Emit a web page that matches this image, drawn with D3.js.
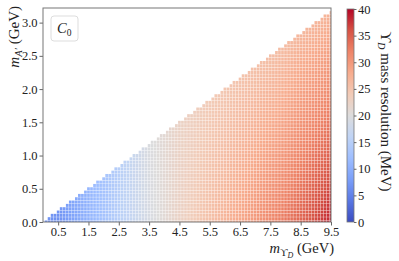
<!DOCTYPE html>
<html>
<head>
<meta charset="utf-8">
<script src="https://cdn.jsdelivr.net/npm/d3@7"></script>
<style>
  body { margin: 0; background: #fff; }
  svg { display: block; }
  text { font-family: "Liberation Serif", "DejaVu Serif", serif; fill: #222; }
</style>
</head>
<body>
<svg width="399" height="261"></svg>
<script>
// scan grid (GeV): m_Upsilon_D columns, m_A' rows, kept where m_Upsilon_D >= 3 m_A'
const mUpsScan = d3.range(1, 96).map(i => i / 10);
const mAStep = 0.05;

// resolution (MeV), at the tick masses
const anchorMUps = [0.5, 1.5, 2.5, 3.5, 4.5, 5.5, 6.5, 7.5, 8.5, 9.5];
const resAtBottom = [6.5, 10.5, 15, 19, 22.5, 25.5, 28.5, 31.5, 34.5, 38.5]; // m_A' = 0
const resAtEdge   = [7, 11, 15, 19.5, 22.5, 24, 25, 25.5, 26.5, 27];     // m_A' = m_Ups / 3

const xTicks = [0.5, 1.5, 2.5, 3.5, 4.5, 5.5, 6.5, 7.5, 8.5, 9.5];
const yTicks = [0, 0.5, 1, 1.5, 2, 2.5, 3];
const cbTicks = [0, 5, 10, 15, 20, 25, 30, 35, 40];
const coolwarm = ["#3b4cc0", "#5977e3", "#7b9ff9", "#9ebeff", "#c0d4f5", "#dddcdc",
                  "#f2cbb7", "#f7ac8e", "#ee8468", "#d65244", "#b40426"];

const svg = d3.select("svg");
const margin = {left: 43, top: 8, right: 331, bottom: 222};

const x = d3.scaleLinear().domain([0, 9.5]).range([margin.left, margin.right]);
const y = d3.scaleLinear().domain([0, 3.22]).range([margin.bottom, margin.top]);
const color = d3.scaleLinear()
  .domain(coolwarm.map((c, i) => i * 4))
  .range(coolwarm)
  .interpolate(d3.interpolateRgb)
  .clamp(true);

const bottomAt = d3.scaleLinear().domain(anchorMUps).range(resAtBottom).clamp(true);
const edgeAt = d3.scaleLinear().domain(anchorMUps).range(resAtEdge).clamp(true);

const points = [];
mUpsScan.forEach(mu => {
  for (let k = 0; k * mAStep <= mu / 3 + 1e-9; k++) {
    const ma = k * mAStep;
    const t = ma / (mu / 3);
    points.push({mu, ma, res: bottomAt(mu) + (edgeAt(mu) - bottomAt(mu)) * t});
  }
});

svg.append("defs").append("clipPath").attr("id", "plotclip")
  .append("rect")
  .attr("x", margin.left).attr("y", margin.top)
  .attr("width", margin.right - margin.left)
  .attr("height", margin.bottom - margin.top);

const w = 2.7, h = 3.0;
svg.append("g")
  .attr("clip-path", "url(#plotclip)")
  .selectAll("rect")
  .data(points)
  .join("rect")
  .attr("x", d => x(d.mu) - w / 2)
  .attr("y", d => y(d.ma) - h / 2)
  .attr("width", w)
  .attr("height", h)
  .attr("fill", d => color(d.res));

// axes
const xAxis = svg.append("g")
  .attr("transform", `translate(0,${margin.bottom})`)
  .call(d3.axisBottom(x).tickValues(xTicks).tickFormat(d3.format(".1f")).tickSize(3.5).tickPadding(1.5));
const yAxis = svg.append("g")
  .attr("transform", `translate(${margin.left},0)`)
  .call(d3.axisLeft(y).tickValues(yTicks).tickFormat(d3.format(".1f")).tickSize(3.5).tickPadding(2));
[xAxis, yAxis].forEach(g => {
  g.select(".domain").remove();
  g.selectAll("line").attr("stroke", "#666");
  g.selectAll("text").attr("font-size", 12.5).attr("font-family", "Liberation Serif").attr("fill", "#222");
});

svg.append("rect")
  .attr("x", margin.left).attr("y", margin.top)
  .attr("width", margin.right - margin.left)
  .attr("height", margin.bottom - margin.top)
  .attr("fill", "none").attr("stroke", "#777").attr("stroke-width", 1);

// axis labels
const xl = svg.append("text")
  .attr("x", 334).attr("y", 253)
  .attr("text-anchor", "end").attr("font-size", 14.5);
xl.append("tspan").attr("font-style", "italic").text("m");
xl.append("tspan").attr("font-size", 10.5).attr("dy", 2.5).text("ϒ");
xl.append("tspan").attr("font-size", 8).attr("font-style", "italic").attr("dy", 2).text("D");
xl.append("tspan").attr("dy", -4.5).text(" (GeV)");

const yl = svg.append("text")
  .attr("transform", "translate(19,6) rotate(-90)")
  .attr("text-anchor", "end").attr("font-size", 15);
yl.append("tspan").attr("font-style", "italic").text("m");
yl.append("tspan").attr("font-size", 10.5).attr("font-style", "italic").attr("dy", 2.5).text("A′");
yl.append("tspan").attr("dy", -2.5).text(" (GeV)");

// legend box
svg.append("rect")
  .attr("x", 51).attr("y", 16).attr("width", 27).attr("height", 25).attr("rx", 3)
  .attr("fill", "#fff").attr("stroke", "#ddd").attr("stroke-width", 1);
const lg = svg.append("text").attr("x", 57).attr("y", 33).attr("font-size", 14.5);
lg.append("tspan").attr("font-style", "italic").text("C");
lg.append("tspan").attr("font-size", 9.5).attr("dy", 2.5).text("0");

// colorbar
const cb = {x: 347, w: 7, top: 9, bottom: 222};
const cy = d3.scaleLinear().domain([0, 40]).range([cb.bottom, cb.top]);
const grad = svg.select("defs").append("linearGradient")
  .attr("id", "cbgrad").attr("x1", 0).attr("y1", 1).attr("x2", 0).attr("y2", 0);
grad.selectAll("stop")
  .data(coolwarm)
  .join("stop")
  .attr("offset", (d, i) => i / (coolwarm.length - 1))
  .attr("stop-color", d => d);
svg.append("rect")
  .attr("x", cb.x).attr("y", cb.top).attr("width", cb.w).attr("height", cb.bottom - cb.top)
  .attr("fill", "url(#cbgrad)").attr("stroke", "#777").attr("stroke-width", 0.8);
const cAxis = svg.append("g")
  .attr("transform", `translate(${cb.x + cb.w},0)`)
  .call(d3.axisRight(cy).tickValues(cbTicks).tickSize(2.5).tickPadding(1.5));
cAxis.select(".domain").remove();
cAxis.selectAll("line").attr("stroke", "#666");
cAxis.selectAll("text").attr("font-size", 12.5).attr("font-family", "Liberation Serif").attr("fill", "#222");

const cl = svg.append("text")
  .attr("transform", `translate(381,${(cb.top + cb.bottom) / 2 - 4}) rotate(90)`)
  .attr("text-anchor", "middle").attr("font-size", 15);
cl.append("tspan").text("ϒ");
cl.append("tspan").attr("font-size", 10).attr("font-style", "italic").attr("dy", 3).text("D");
cl.append("tspan").attr("dy", -3).text(" mass resolution (MeV)");
</script>
</body>
</html>
